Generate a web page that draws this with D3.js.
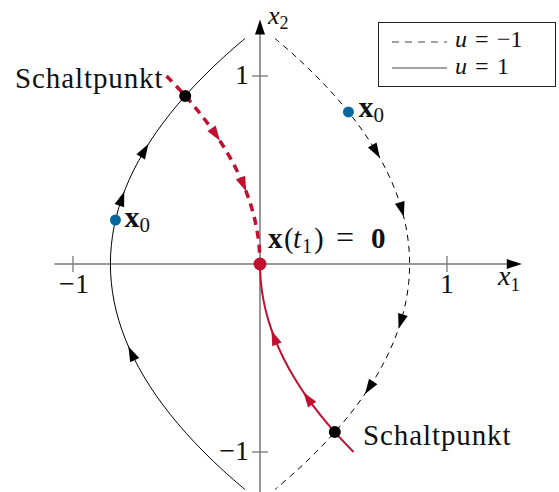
<!DOCTYPE html>
<html><head><meta charset="utf-8">
<script src="https://cdn.jsdelivr.net/npm/d3@7"></script>
<style>
html,body{margin:0;padding:0;background:#fff;}
svg text{font-family:"Liberation Serif","DejaVu Serif",serif;fill:#111;}
</style></head><body>
<svg id="chart" width="559" height="492"></svg>
<script>
// Phase plane of the double integrator x1' = x2, x2' = u with bang-bang control u = ±1

// trajectory with u = 1 through the left start point (x1 = x2^2/2 - 0.8)
const x2Traj = [1.2, 1.1, 1.0, 0.9, 0.8, 0.7, 0.6, 0.5, 0.4, 0.3, 0.2, 0.1, 0.0,
                -0.1, -0.2, -0.3, -0.4, -0.5, -0.6, -0.7, -0.8, -0.9, -1.0, -1.1, -1.2];
const x1TrajU1 = [-0.08, -0.195, -0.3, -0.395, -0.48, -0.555, -0.62, -0.675, -0.72, -0.755, -0.78, -0.795, -0.8,
                  -0.795, -0.78, -0.755, -0.72, -0.675, -0.62, -0.555, -0.48, -0.395, -0.3, -0.195, -0.08];
// trajectory with u = -1 through the right start point (x1 = 0.8 - x2^2/2)
const x1TrajUm1 = [0.08, 0.195, 0.3, 0.395, 0.48, 0.555, 0.62, 0.675, 0.72, 0.755, 0.78, 0.795, 0.8,
                   0.795, 0.78, 0.755, 0.72, 0.675, 0.62, 0.555, 0.48, 0.395, 0.3, 0.195, 0.08];

// switching curve, upper branch (u = -1) and lower branch (u = 1)
const x2SwitchUpper = [1.0, 0.9, 0.8, 0.7, 0.6, 0.5, 0.4, 0.3, 0.2, 0.1, 0.0];
const x1SwitchUpper = [-0.5, -0.405, -0.32, -0.245, -0.18, -0.125, -0.08, -0.045, -0.02, -0.005, 0.0];
const x2SwitchLower = [0.0, -0.1, -0.2, -0.3, -0.4, -0.5, -0.6, -0.7, -0.8, -0.9, -1.0];
const x1SwitchLower = [0.0, 0.005, 0.02, 0.045, 0.08, 0.125, 0.18, 0.245, 0.32, 0.405, 0.5];

// marked points [x1, x2]
const switchPoints = [[-0.4, 0.894], [0.4, -0.894]];
const startPoints = [[-0.773, 0.234], [0.473, 0.809]];
const targetPoint = [0, 0];

// direction arrows [x1, x2, u]
const arrowsU1 = [[-0.616, 0.606, 1], [-0.738, 0.351, 1], [-0.688, -0.473, 1]];
const arrowsUm1 = [[0.622, 0.596, -1], [0.759, 0.287, -1], [0.752, -0.309, -1], [0.582, -0.66, -1]];
const arrowsSwitch = [[-0.235, 0.686, -1], [-0.088, 0.42, -1], [0.075, -0.388, 1], [0.254, -0.713, 1]];

const xTicks = [-1, 1];
const yTicks = [-1, 1];
const xAxisExtent = [-1.1, 1.4];
const yAxisExtent = [-1.3, 1.3];

const RED = "#c1112f", BLUE = "#08689e";

const svg = d3.select("#chart");
const x = d3.scaleLinear().domain([-1, 1]).range([73, 447]);
const y = d3.scaleLinear().domain([-1, 1]).range([452, 76]);
const kx = x(1) - x(0), ky = y(0) - y(1);

const line = d3.line().x(d => x(d[0])).y(d => y(d[1])).curve(d3.curveCatmullRom);
const zip = (a, b) => a.map((v, i) => [v, b[i]]);

// axes
const axisG = svg.append("g");
axisG.append("line").attr("x1", x(xAxisExtent[0])).attr("x2", x(xAxisExtent[1]) - 8)
  .attr("y1", y(0)).attr("y2", y(0)).attr("stroke", "#777").attr("stroke-width", 1.5);
axisG.append("line").attr("x1", x(0)).attr("x2", x(0))
  .attr("y1", y(yAxisExtent[0])).attr("y2", y(yAxisExtent[1]) + 8).attr("stroke", "#777").attr("stroke-width", 1.5);
axisG.append("path").attr("d", "M0,0 L-15,-5 L-15,5 Z")
  .attr("transform", `translate(${x(xAxisExtent[1])},${y(0)})`).attr("fill", "#000");
axisG.append("path").attr("d", "M0,0 L-15,-5 L-15,5 Z")
  .attr("transform", `translate(${x(0)},${y(yAxisExtent[1])}) rotate(-90)`).attr("fill", "#000");

axisG.selectAll(".xt").data(xTicks).join("line")
  .attr("x1", d => x(d)).attr("x2", d => x(d)).attr("y1", y(0) - 8).attr("y2", y(0) + 8)
  .attr("stroke", "#777").attr("stroke-width", 1.3);
axisG.selectAll(".yt").data(yTicks).join("line")
  .attr("y1", d => y(d)).attr("y2", d => y(d)).attr("x1", x(0) - 8).attr("x2", x(0) + 8)
  .attr("stroke", "#777").attr("stroke-width", 1.3);

const fmt = d => d < 0 ? "\u2212" + Math.abs(d) : String(d);
axisG.selectAll(".xl").data(xTicks).join("text")
  .attr("x", d => x(d) + (d < 0 ? 1 : 0)).attr("y", y(0) + 29)
  .attr("text-anchor", "middle").attr("font-size", 28).text(fmt);
axisG.selectAll(".yl").data(yTicks).join("text")
  .attr("x", x(0) - 11).attr("y", d => y(d) + 8)
  .attr("text-anchor", "end").attr("font-size", 28).text(fmt);

// axis names
const xName = svg.append("text").attr("x", 498).attr("y", 285).attr("font-size", 28);
xName.append("tspan").attr("font-style", "italic").text("x");
xName.append("tspan").attr("font-size", 19).attr("dy", 6).text("1");
const yName = svg.append("text").attr("x", 268).attr("y", 24).attr("font-size", 26);
yName.append("tspan").attr("font-style", "italic").text("x");
yName.append("tspan").attr("font-size", 18).attr("dy", 5).text("2");

// trajectories
svg.append("path").attr("d", line(zip(x1TrajU1, x2Traj)))
  .attr("fill", "none").attr("stroke", "#000").attr("stroke-width", 1);
svg.append("path").attr("d", line(zip(x1TrajUm1, x2Traj)))
  .attr("fill", "none").attr("stroke", "#000").attr("stroke-width", 1)
  .attr("stroke-dasharray", "6,5");
svg.append("path").attr("d", line(zip(x1SwitchUpper, x2SwitchUpper)))
  .attr("fill", "none").attr("stroke", RED).attr("stroke-width", 3.5)
  .attr("stroke-dasharray", "8,6");
svg.append("path").attr("d", line(zip(x1SwitchLower, x2SwitchLower)))
  .attr("fill", "none").attr("stroke", RED).attr("stroke-width", 2);

// arrowheads along the direction of motion (x2, u)
function arrows(data, color) {
  svg.append("g").selectAll("path").data(data).join("path")
    .attr("d", "M7,0 L-8,-5 L-8,5 Z")
    .attr("fill", color)
    .attr("transform", d => {
      const ang = Math.atan2(-d[2] * ky, d[1] * kx) * 180 / Math.PI;
      return `translate(${x(d[0])},${y(d[1])}) rotate(${ang})`;
    });
}
arrows(arrowsU1, "#000");
arrows(arrowsUm1, "#000");
arrows(arrowsSwitch, RED);

// points
svg.append("g").selectAll("circle").data(switchPoints).join("circle")
  .attr("cx", d => x(d[0])).attr("cy", d => y(d[1])).attr("r", 6).attr("fill", "#000");
svg.append("g").selectAll("circle").data(startPoints).join("circle")
  .attr("cx", d => x(d[0])).attr("cy", d => y(d[1])).attr("r", 5.5).attr("fill", BLUE);
svg.append("circle").attr("cx", x(targetPoint[0])).attr("cy", y(targetPoint[1]))
  .attr("r", 6.5).attr("fill", RED);

// labels
function schalt(px, py) {
  svg.append("text").attr("x", px).attr("y", py).attr("font-size", 29)
    .attr("letter-spacing", 0.9).text("Schaltpunkt");
}
schalt(15, 88);
schalt(363, 445);

function x0Label(px, py) {
  const t = svg.append("text").attr("x", px).attr("y", py).attr("font-size", 30);
  t.append("tspan").attr("font-weight", "bold").text("x");
  t.append("tspan").attr("font-size", 21).attr("dy", 5).text("0");
}
x0Label(x(startPoints[0][0]) + 9, y(startPoints[0][1]) + 7);
x0Label(x(startPoints[1][0]) + 10, y(startPoints[1][1]) + 5);

const tl = svg.append("text").attr("y", 248).attr("font-size", 29);
tl.append("tspan").attr("x", 268).attr("font-weight", "bold").text("x");
tl.append("tspan").attr("x", 284).text("(");
tl.append("tspan").attr("x", 293).attr("font-style", "italic").text("t");
tl.append("tspan").attr("x", 302).attr("font-size", 20).attr("dy", 5).text("1");
tl.append("tspan").attr("x", 314).attr("dy", -5).text(")");
tl.append("tspan").attr("x", 336).attr("font-size", 32).text("=");
tl.append("tspan").attr("x", 371).attr("font-weight", "bold").text("0");

// legend
const lg = svg.append("g");
lg.append("rect").attr("x", 378.5).attr("y", 22.5).attr("width", 177).attr("height", 64)
  .attr("fill", "#fff").attr("stroke", "#222").attr("stroke-width", 1);
lg.append("line").attr("x1", 392).attr("x2", 447).attr("y1", 42).attr("y2", 42)
  .attr("stroke", "#444").attr("stroke-width", 1).attr("stroke-dasharray", "7,6");
lg.append("line").attr("x1", 392).attr("x2", 447).attr("y1", 68).attr("y2", 68)
  .attr("stroke", "#444").attr("stroke-width", 1);
const legendRows = [{y: 47, val: "\u22121"}, {y: 74, val: "1"}];
legendRows.forEach(r => {
  const t = lg.append("text").attr("y", r.y).attr("font-size", 24);
  t.append("tspan").attr("x", 455).attr("font-style", "italic").text("u");
  t.append("tspan").attr("x", 475).text("=");
  t.append("tspan").attr("x", 497).text(r.val);
});
</script>
</body></html>
